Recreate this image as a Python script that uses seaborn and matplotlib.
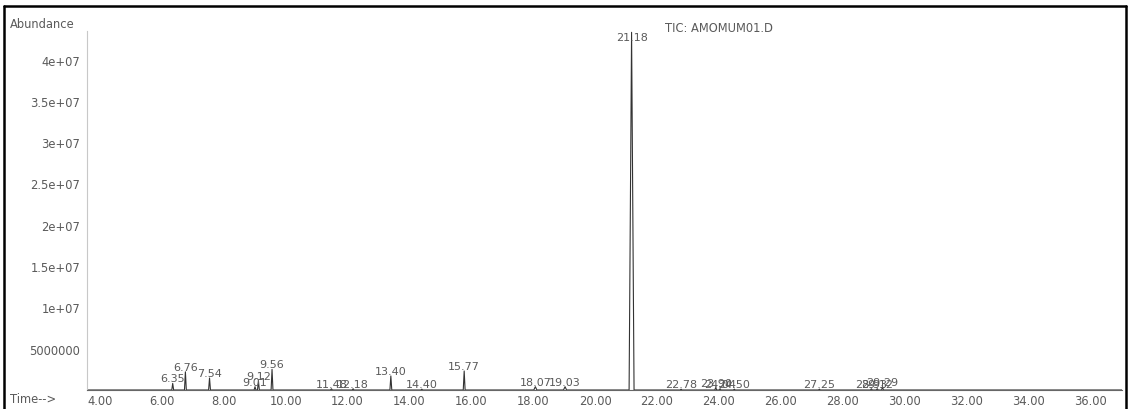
import matplotlib
matplotlib.use("Agg")
import matplotlib.pyplot as plt
from matplotlib.lines import Line2D
import seaborn as sns
import pandas as pd

# Retention times (min), apex abundances and half-widths of the labelled peaks
peak_rt = [6.35, 6.76, 7.54, 9.01, 9.12, 9.56, 11.48, 12.18, 13.40, 14.40,
           15.77, 18.07, 19.03, 21.18, 22.78, 23.90, 24.04, 24.50, 27.25,
           28.93, 29.12, 29.29]
peak_abund = [0.8e6, 2.2e6, 1.45e6, 0.4e6, 1.1e6, 2.5e6, 0.15e6, 0.15e6,
              1.7e6, 0.1e6, 2.3e6, 0.4e6, 0.4e6, 4.33e7, 0.1e6, 0.3e6,
              0.15e6, 0.1e6, 0.1e6, 0.15e6, 0.15e6, 0.35e6]
peak_halfwidth = [0.03, 0.03, 0.03, 0.03, 0.03, 0.03, 0.03, 0.03, 0.03, 0.03,
                  0.03, 0.05, 0.05, 0.08, 0.03, 0.03, 0.03, 0.03, 0.03,
                  0.03, 0.03, 0.03]
peak_label = ["6.35", "6.76", "7.54", "9.01", "9.12", "9.56", "11.48", "12.18",
              "13.40", "14.40", "15.77", "18.07", "19.03", "21.18", "22.78",
              "23.90", "24.04", "24.50", "27.25", "28.93", "29.12", "29.29"]

time_ticks = [4, 6, 8, 10, 12, 14, 16, 18, 20, 22, 24, 26, 28, 30, 32, 34, 36]
abund_ticks = [5000000, 1e7, 1.5e7, 2e7, 2.5e7, 3e7, 3.5e7, 4e7]
abund_tick_labels = ["5000000", "1e+07", "1.5e+07", "2e+07", "2.5e+07",
                     "3e+07", "3.5e+07", "4e+07"]

run_start, run_end = 3.58, 37.03

# Trace: flat baseline with a triangular spike for every peak
times, signal = [run_start], [0.0]
for rt, h, w in zip(peak_rt, peak_abund, peak_halfwidth):
    times += [rt - w, rt, rt + w]
    signal += [0.0, h, 0.0]
times.append(run_end)
signal.append(0.0)
trace = pd.DataFrame({"time": times, "abundance": signal})

sns.set_style("white")
plt.rcParams["font.family"] = ["DejaVu Sans"]
text_color = "#5a5a5a"

W, H = 1129, 410
fig = plt.figure(figsize=(W / 100, H / 100), dpi=100)
ax = fig.add_axes([87 / W, 19 / H, 1035 / W, 359 / H])

sns.lineplot(data=trace, x="time", y="abundance", sort=False, estimator=None,
             color="#333333", linewidth=0.8, ax=ax)

ax.set_xlim(run_start, run_end)
ax.set_ylim(0, 4.346e7)
ax.set_xlabel("")
ax.set_ylabel("")

for side in ("top", "right"):
    ax.spines[side].set_visible(False)
ax.spines["left"].set_color("#c8c8c8")
ax.spines["left"].set_linewidth(0.8)
ax.spines["bottom"].set_color("#666666")
ax.spines["bottom"].set_linewidth(0.8)

ax.set_xticks(time_ticks)
ax.set_xticklabels([f"{t:.2f}" for t in time_ticks], fontsize=8.3, color=text_color)
ax.set_xticks([t / 2 for t in range(8, 74)], minor=True)
ax.tick_params(axis="x", which="major", direction="inout", length=6, width=0.7,
               color="#777777", pad=0)
ax.tick_params(axis="x", which="minor", direction="in", length=3, width=0.5,
               color="#999999")
ax.set_yticks(abund_ticks)
ax.set_yticklabels(abund_tick_labels, fontsize=8.3, color=text_color)
ax.tick_params(axis="y", length=0, pad=5)

# Retention time labels above each apex
for rt, h, lab in zip(peak_rt, peak_abund, peak_label):
    tall = h > 4e7
    ax.text(rt, h, lab, ha="center", va="top" if tall else "bottom",
            fontsize=8, color=text_color, clip_on=False)

fig.text(665 / W, 1 - 29 / H, "TIC: AMOMUM01.D", ha="left", va="center",
         fontsize=8.3, color=text_color)
fig.text(10 / W, 1 - 25 / H, "Abundance", ha="left", va="center",
         fontsize=8.3, color=text_color)
fig.text(10 / W, 1 - 400 / H, "Time-->", ha="left", va="center",
         fontsize=8.3, color=text_color)

# Outer frame
for xs, ys in [((4, 1126), (H - 7, H - 7)), ((4, 4), (0, H - 7)),
               ((1126, 1126), (0, H - 7))]:
    fig.add_artist(Line2D([x / W for x in xs], [y / H for y in ys],
                          transform=fig.transFigure, color="black", linewidth=1.8))

fig.savefig("out.png", dpi=100)
